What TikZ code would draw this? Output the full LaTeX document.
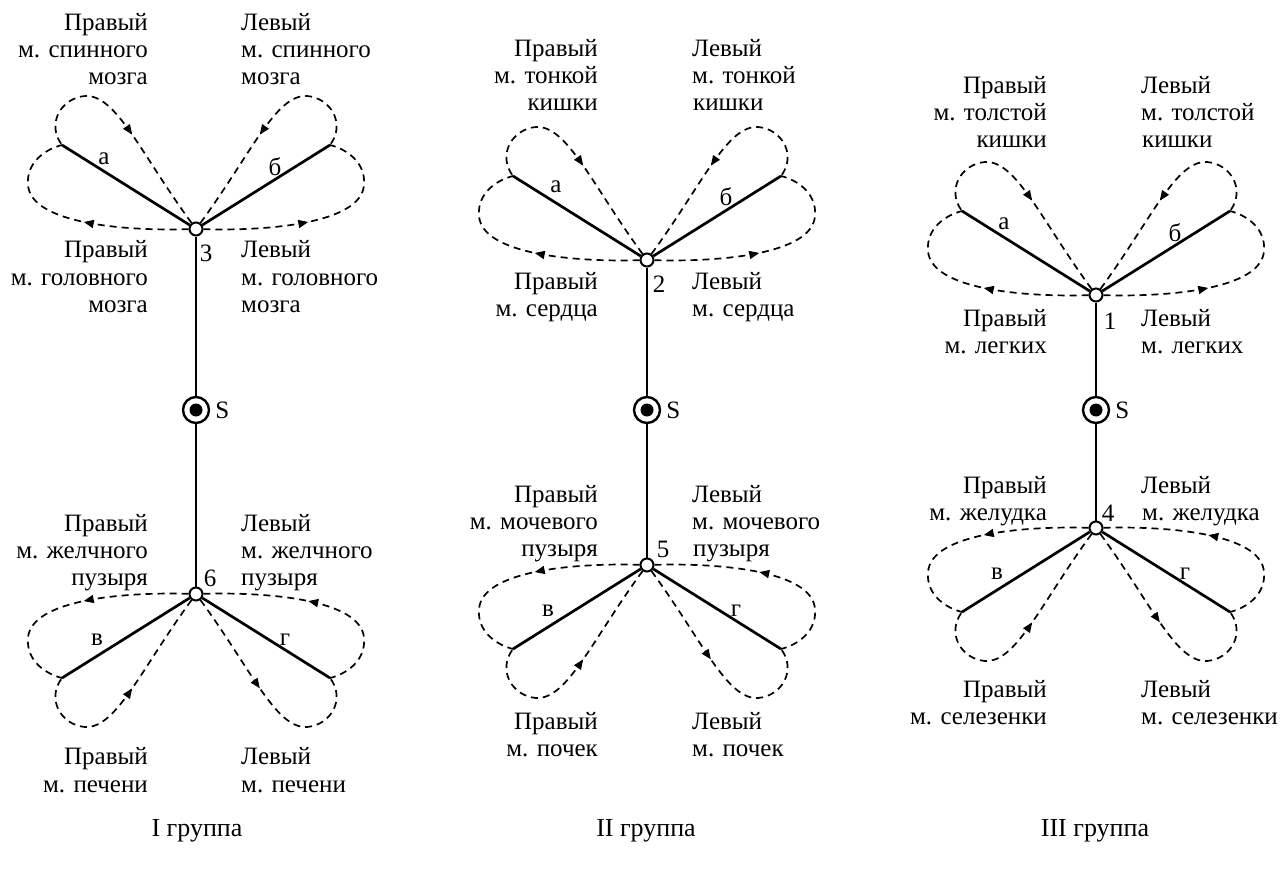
\documentclass[tikz,border=0pt]{standalone}
\usepackage{fontspec}
\setmainfont{Liberation Serif}
\usetikzlibrary{decorations.markings,arrows.meta}
\tikzset{
 arm/.style={line width=2.7pt},
 loopd/.style={line width=1.7pt, dash pattern=on 7pt off 5pt},
 jn/.style={circle, draw, line width=2pt, fill=white, minimum size=13pt, inner sep=0pt},
 sring/.style={circle, draw, line width=2.4pt, fill=white, minimum size=26pt, inner sep=0pt,
   path picture={\fill[black] (path picture bounding box.center) circle (6.5pt);}},
 lbl/.style={font=\fontsize{25}{27}\selectfont, inner sep=0pt},
 ttl/.style={font=\fontsize{26}{28}\selectfont, inner sep=0pt},
 fwd/.style={postaction={decorate,decoration={markings,mark=at position #1 with {\arrow[solid]{Triangle[length=10pt,width=8pt]}}}}},
 rev/.style={postaction={decorate,decoration={markings,mark=at position #1 with {\arrowreversed[solid]{Triangle[length=10pt,width=8pt]}}}}},
}
\newcommand\petals[8]{%
 \begin{scope}[shift={(#1.center)},yscale=#8]
  \coordinate (#2) at (-134,-84);
  \coordinate (#3) at (134,-84);
  \draw[arm] (#1) -- (#2);
  \draw[arm] (#1) -- (#3);
  \draw[loopd,#4] (#1) .. controls (-55,-75) and (-80,-135) .. (-111,-133) .. controls (-135,-131) and (-150,-105) .. (#2);
  \draw[loopd,#5] (#1) .. controls (-70,2) and (-165,-5) .. (-168,-44) .. controls (-170,-67) and (-150,-80) .. (#2);
  \draw[loopd,#6] (#1) .. controls (55,-75) and (80,-135) .. (111,-133) .. controls (135,-131) and (150,-105) .. (#3);
  \draw[loopd,#7] (#1) .. controls (70,2) and (165,-5) .. (168,-44) .. controls (170,-67) and (150,-80) .. (#3);
 \end{scope}}
\newcommand\tx[5]{\node[lbl,anchor=#2] (#1) at (#3,#4) {#5};}
\begin{document}
\begin{tikzpicture}[x=1pt,y=-1pt]
\useasboundingbox (0,0) rectangle (1282,869);
% ---------- group I
\node[sring] (s1) at (196,410) {};
\node[jn] (j1t) at (196,229) {};
\node[jn] (j1b) at (196,594) {};
\draw[arm] (j1t) -- (s1);
\draw[arm] (s1) -- (j1b);
\petals{j1t}{e1a}{e1b}{rev=0.45}{fwd=0.45}{rev=0.45}{fwd=0.45}{1}
\petals{j1b}{e1v}{e1g}{rev=0.45}{fwd=0.45}{fwd=0.45}{rev=0.45}{-1}
\node[lbl,anchor=west] (s1l) at ([xshift=5]s1.east) {S};
\node[lbl] (n1t) at ([shift={(10,24)}]j1t) {3};
\node[lbl] (n1b) at ([shift={(14,-16)}]j1b) {6};
\node[lbl] (a1) at ([shift={(-92,-70)}]j1t) {а};
\node[lbl] (b1) at ([shift={(79,-62)}]j1t) {б};
\node[lbl] (v1) at ([shift={(-99,46)}]j1b) {в};
\node[lbl] (g1) at ([shift={(89,46)}]j1b) {г};
\tx{t1a}{base east}{148}{31}{Правый}
\tx{t1b}{base east}{148}{58}{м. спинного}
\tx{t1c}{base east}{148}{85}{мозга}
\tx{t1d}{base west}{241}{31}{Левый}
\tx{t1e}{base west}{241}{58}{м. спинного}
\tx{t1f}{base west}{241}{85}{мозга}
\tx{m1a}{base east}{148}{258}{Правый}
\tx{m1b}{base east}{148}{285}{м. головного}
\tx{m1c}{base east}{148}{312}{мозга}
\tx{m1d}{base west}{241}{258}{Левый}
\tx{m1e}{base west}{241}{285}{м. головного}
\tx{m1f}{base west}{241}{312}{мозга}
\tx{p1a}{base east}{148}{531}{Правый}
\tx{p1b}{base east}{148}{558}{м. желчного}
\tx{p1c}{base east}{148}{585}{пузыря}
\tx{p1d}{base west}{241}{531}{Левый}
\tx{p1e}{base west}{241}{558}{м. желчного}
\tx{p1f}{base west}{241}{585}{пузыря}
\tx{q1a}{base east}{148}{764}{Правый}
\tx{q1b}{base east}{148}{792}{м. печени}
\tx{q1c}{base west}{241}{764}{Левый}
\tx{q1d}{base west}{241}{792}{м. печени}
% ---------- group II
\node[sring] (s2) at (647,410) {};
\node[jn] (j2t) at (647,260) {};
\node[jn] (j2b) at (647,565) {};
\draw[arm] (j2t) -- (s2);
\draw[arm] (s2) -- (j2b);
\petals{j2t}{e2a}{e2b}{rev=0.45}{fwd=0.45}{rev=0.45}{fwd=0.45}{1}
\petals{j2b}{e2v}{e2g}{rev=0.45}{fwd=0.45}{fwd=0.45}{rev=0.45}{-1}
\node[lbl,anchor=west] (s2l) at ([xshift=5]s2.east) {S};
\node[lbl] (n2t) at ([shift={(12,24)}]j2t) {2};
\node[lbl] (n2b) at ([shift={(16,-16)}]j2b) {5};
\node[lbl] (a2) at ([shift={(-91,-73)}]j2t) {а};
\node[lbl] (b2) at ([shift={(79,-63)}]j2t) {б};
\node[lbl] (v2) at ([shift={(-99,46)}]j2b) {в};
\node[lbl] (g2) at ([shift={(89,46)}]j2b) {г};
\tx{t2a}{base east}{598}{57}{Правый}
\tx{t2b}{base east}{598}{84}{м. тонкой}
\tx{t2c}{base east}{598}{111}{кишки}
\tx{t2d}{base west}{692}{57}{Левый}
\tx{t2e}{base west}{692}{84}{м. тонкой}
\tx{t2f}{base west}{693}{111}{кишки}
\tx{m2a}{base east}{598}{289}{Правый}
\tx{m2b}{base east}{598}{316}{м. сердца}
\tx{m2d}{base west}{692}{289}{Левый}
\tx{m2e}{base west}{692}{316}{м. сердца}
\tx{p2a}{base east}{598}{502}{Правый}
\tx{p2b}{base east}{598}{529}{м. мочевого}
\tx{p2c}{base east}{598}{556}{пузыря}
\tx{p2d}{base west}{692}{502}{Левый}
\tx{p2e}{base west}{692}{529}{м. мочевого}
\tx{p2f}{base west}{693}{556}{пузыря}
\tx{q2a}{base east}{598}{729}{Правый}
\tx{q2b}{base east}{598}{756}{м. почек}
\tx{q2c}{base west}{692}{729}{Левый}
\tx{q2d}{base west}{692}{756}{м. почек}
% ---------- group III
\node[sring] (s3) at (1096,410) {};
\node[jn] (j3t) at (1096,295) {};
\node[jn] (j3b) at (1096,528) {};
\draw[arm] (j3t) -- (s3);
\draw[arm] (s3) -- (j3b);
\petals{j3t}{e3a}{e3b}{rev=0.45}{fwd=0.45}{rev=0.45}{fwd=0.45}{1}
\petals{j3b}{e3v}{e3g}{rev=0.45}{fwd=0.45}{fwd=0.45}{rev=0.45}{-1}
\node[lbl,anchor=west] (s3l) at ([xshift=5]s3.east) {S};
\node[lbl] (n3t) at ([shift={(14,26)}]j3t) {1};
\node[lbl] (n3b) at ([shift={(12,-15)}]j3b) {4};
\node[lbl] (a3) at ([shift={(-92,-71)}]j3t) {а};
\node[lbl] (b3) at ([shift={(79,-62)}]j3t) {б};
\node[lbl] (v3) at ([shift={(-99,46)}]j3b) {в};
\node[lbl] (g3) at ([shift={(89,46)}]j3b) {г};
\tx{t3a}{base east}{1047}{94}{Правый}
\tx{t3b}{base east}{1047}{121}{м. толстой}
\tx{t3c}{base east}{1047}{148}{кишки}
\tx{t3d}{base west}{1141}{94}{Левый}
\tx{t3e}{base west}{1141}{121}{м. толстой}
\tx{t3f}{base west}{1142}{148}{кишки}
\tx{m3a}{base east}{1047}{326}{Правый}
\tx{m3b}{base east}{1047}{353}{м. легких}
\tx{m3d}{base west}{1141}{326}{Левый}
\tx{m3e}{base west}{1141}{353}{м. легких}
\tx{p3a}{base east}{1047}{493}{Правый}
\tx{p3b}{base east}{1047}{520}{м. желудка}
\tx{p3d}{base west}{1141}{493}{Левый}
\tx{p3e}{base west}{1142}{520}{м. желудка}
\tx{q3a}{base east}{1047}{697}{Правый}
\tx{q3b}{base east}{1047}{724}{м. селезенки}
\tx{q3c}{base west}{1141}{697}{Левый}
\tx{q3d}{base west}{1141}{724}{м. селезенки}
% ---------- titles
\node[ttl,anchor=base] (tt1) at (197,836) {I группа};
\node[ttl,anchor=base] (tt2) at (646,836) {II группа};
\node[ttl,anchor=base] (tt3) at (1095,836) {III группа};
\end{tikzpicture}
\end{document}
